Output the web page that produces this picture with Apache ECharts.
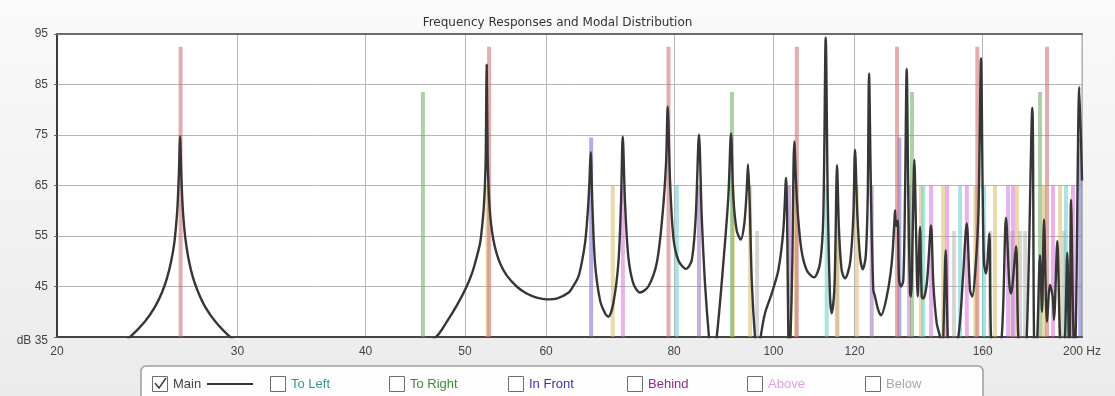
<!DOCTYPE html>
<html>
<head>
<meta charset="utf-8">
<script src="https://cdn.jsdelivr.net/npm/echarts@6/dist/echarts.min.js"></script>
<style>
  html, body { margin: 0; padding: 0; background: #f1f1f1; }
  #chart { width: 1115px; height: 396px; }
</style>
</head>
<body>
<div id="chart"></div>
<script>
// Axis tick positions (Hz) along the logarithmic frequency axis
const tickHz = [20, 30, 40, 50, 60, 80, 100, 120, 160, 200];

// Room modes (Hz), grouped by type
const axialLengthHz = [26.4, 52.8, 79.0, 105.4, 132.0, 158.1, 184.9];
const axialWidthHz = [45.5, 91.1, 136.5, 182.0];
const axialHeightHz = [66.4, 132.7, 199.2];
const tangentialTanHz = [52.6, 69.7, 91.3, 94.9, 105.2, 115.3, 120.6, 139.3, 146.4, 157.4, 164.5, 172.8, 183.6, 190.4];
const tangentialCyanHz = [80.5, 112.7, 140.0, 152.1, 160.5, 192.9];
const tangentialPinkHz = [71.3, 135.6, 142.5, 147.7, 154.4, 169.4, 171.3, 187.4, 196.0];
const tangentialPurpleHz = [84.6, 103.6, 124.7];
const obliqueHz = [96.4, 115.5, 150.0, 162.7, 171.0, 174.0, 176.0, 192.1];

// Marker level (dB) drawn for each mode group
const modeLevels = {
  axialLength: 92.5,
  axialWidth: 83.5,
  axialHeight: 74.5,
  tangential: 65,
  oblique: 56
};

// Summed response of the main listening position: [Hz, dB]
const responsePoints = [
  [20, 25], [22.03, 30], [23.57, 35], [24.38, 38.1], [24.93, 41.0], [25.33, 43.9], [25.61, 46.7], [25.84, 49.9],
  [26.02, 53.4], [26.13, 56.9], [26.22, 61.0], [26.30, 67.4], [26.37, 74.7], [26.44, 67.4], [26.52, 61.0], [26.61, 56.9],
  [26.73, 53.4], [26.91, 49.9], [27.15, 46.7], [27.46, 43.9], [27.89, 41.0], [28.53, 38.1], [29.51, 35], [32.27, 29],
  [37.77, 27], [43.22, 30], [46.86, 35], [48.00, 38], [49.09, 41.2], [50.20, 45], [50.88, 48], [51.34, 50.8],
  [51.73, 53.5], [51.98, 57], [52.16, 60.5], [52.30, 65], [52.40, 71], [52.51, 88.9], [52.62, 71], [52.72, 65],
  [52.86, 60.5], [53.04, 57.2], [53.31, 54.2], [53.70, 51.5], [54.19, 49.3], [54.92, 47.2], [56.17, 45.0], [57.44, 43.6],
  [58.75, 42.8], [60.09, 42.45], [61.45, 42.6], [63.03, 43.7], [63.75, 45.0], [64.51, 46.9], [65.05, 50], [65.49, 53.6],
  [65.74, 57], [65.98, 61.5], [66.15, 66], [66.33, 71.6],
  [66.57, 61.5], [66.98, 49.6], [67.73, 42.3], [68.50, 39.7], [69.01, 39.0], [69.79, 41.7], [70.58, 49.6], [71.00, 61.5],
  [71.28, 74.7], [71.65, 61.5], [72.18, 50.9], [72.99, 45.6], [74.10, 43.8], [75.50, 45.0], [76.93, 49.6], [77.91, 58.8],
  [78.56, 69.3], [78.86, 80.6], [79.27, 66.0], [79.86, 54.8], [80.76, 50.2], [82.17, 48.5], [83.23, 50.2], [83.98, 58.8],
  [84.60, 75.1], [85.12, 58.8], [85.75, 45.6], [86.52, 35], [87.11, 30], [88.03, 35], [89.35, 49.6], [90.36, 62.7],
  [90.91, 75.3], [91.38, 62.7], [92.08, 56.1], [92.91, 54.3], [93.67, 57.5], [94.17, 64.0], [94.45, 69.2], [94.81, 61.4],
  [95.24, 46.3], [95.94, 35], [96.59, 30], [97.18, 35], [98.12, 39.7], [99.61, 43.6], [101.10, 48.2], [102.24, 56.1],
  [102.86, 66.5], [103.40, 36.4], [103.56, 30], [103.91, 35], [104.33, 49.6], [104.80, 73.7], [105.37, 62.7], [106.39, 52.8],
  [107.76, 48.2], [109.54, 46.8], [111.03, 49.6], [111.85, 58.8], [112.46, 94.3], [112.97, 62.7], [113.55, 43.0], [113.99, 39.7],
  [114.65, 44.3], [115.01, 56.1], [115.35, 69.0], [115.87, 56.1], [116.57, 48.2], [117.44, 46.6], [118.77, 49.6], [119.65, 58.8],
  [120.11, 72.1], [120.73, 59.4], [121.47, 50.9], [122.21, 48.4], [123.03, 50.9], [123.59, 62.7], [123.95, 87.2], [124.51, 62.7],
  [125.15, 44.3], [125.63, 43.0], [126.56, 40.3], [127.33, 39.3], [128.98, 43.0], [130.43, 49.6], [131.20, 57.5], [131.40, 60.1],
  [131.70, 57.0], [132.20, 58.1], [132.59, 46.3], [133.19, 45.0], [133.88, 46.3], [134.39, 62.7], [134.90, 88.1], [135.39, 62.7],
  [135.91, 43.6], [136.21, 43.0], [136.73, 56.1], [137.23, 70.1], [137.75, 56.1], [138.28, 43.0], [138.99, 56.8], [139.53, 43.0],
  [140.03, 42.6], [141.20, 46], [142.47, 57.1], [143.21, 45.6], [144.31, 37.7], [145.38, 35], [146.04, 30], [146.46, 35],
  [147.25, 52.2], [147.92, 35], [148.68, 30], [151.48, 35], [153.09, 47], [154.37, 57.5], [155.52, 44.3], [156.32, 43.0],
  [157.52, 49.2], [158.51, 60], [159.41, 90.2], [160.02, 62.7], [160.48, 49.6], [161.21, 47.6], [162.41, 55.5], [163.03, 35],
  [164.50, 30], [166.99, 35], [168.62, 58.6], [169.87, 45.6], [170.52, 43.6], [172.45, 53.0], [173.34, 35], [174.79, 30],
  [176.64, 35], [178.88, 80.4], [179.56, 35], [180.17, 30], [180.90, 35], [182.00, 51.2], [182.82, 40], [183.64, 58.3],
  [184.88, 38], [186.13, 45.3], [187.27, 43.0], [187.81, 38.4], [189.21, 54.0], [190.36, 35], [191.43, 30], [192.51, 35],
  [193.51, 51.7], [194.12, 35], [194.51, 32], [195.12, 62.2], [196.22, 35], [196.89, 33], [198.80, 84.5], [200, 66]
];

// Legend entries
const legendNames = ['Main', 'To Left', 'To Right', 'In Front', 'Behind', 'Above', 'Below'];
const legendChecked = [true, false, false, false, false, false, false];

// ---- styling ----
const FONT = '"Liberation Sans", Arial, sans-serif';
const legendTextColors = ['#444444', '#2f9a9a', '#3c8c3c', '#3434b4', '#8c2c8c', '#e79ae7', '#a8a8a8'];
const legendBoxX = [152, 270, 389, 508, 627, 747, 865];

const modeGroups = [
  { hz: obliqueHz, level: modeLevels.oblique, color: 'rgba(165,165,165,0.45)' },
  { hz: tangentialTanHz, level: modeLevels.tangential, color: 'rgba(214,180,92,0.5)' },
  { hz: tangentialCyanHz, level: modeLevels.tangential, color: 'rgba(84,200,200,0.5)' },
  { hz: tangentialPinkHz, level: modeLevels.tangential, color: 'rgba(215,100,215,0.5)' },
  { hz: tangentialPurpleHz, level: modeLevels.tangential, color: 'rgba(150,95,180,0.5)' },
  { hz: axialHeightHz, level: modeLevels.axialHeight, color: 'rgba(110,110,210,0.55)' },
  { hz: axialWidthHz, level: modeLevels.axialWidth, color: 'rgba(100,175,90,0.55)' },
  { hz: axialLengthHz, level: modeLevels.axialLength, color: 'rgba(205,105,105,0.55)' }
];

function renderModeBar(params, api) {
  const top = api.coord([api.value(0), api.value(1)]);
  const base = api.coord([api.value(0), 35]);
  return {
    type: 'rect',
    shape: { x: top[0] - 2, y: top[1], width: 4, height: base[1] - top[1] },
    style: { fill: api.visual('color') }
  };
}

const modeSeries = modeGroups.map(g => ({
  type: 'custom',
  renderItem: renderModeBar,
  clip: true,
  z: 2,
  itemStyle: { color: g.color },
  encode: { x: 0, y: 1 },
  data: g.hz.map(f => [f, g.level]),
  silent: true
}));

// legend drawn as a panel of checkboxes
const legendGraphics = [{
  type: 'rect',
  shape: { x: 141, y: 366, width: 842, height: 40, r: 5 },
  style: { fill: '#fdfdfd', stroke: '#9c9c9c', lineWidth: 1.5 }
}];
legendNames.forEach((name, i) => {
  const bx = legendBoxX[i];
  legendGraphics.push({
    type: 'rect',
    shape: { x: bx + 0.5, y: 376.5, width: 15, height: 15 },
    style: { fill: '#ffffff', stroke: '#6e6e6e', lineWidth: 1 }
  });
  if (legendChecked[i]) {
    legendGraphics.push({
      type: 'polyline',
      shape: { points: [[bx + 3, 383], [bx + 7, 388], [bx + 14, 378]] },
      style: { stroke: '#3a3a3a', lineWidth: 1.4, fill: null }
    });
  }
  legendGraphics.push({
    type: 'text',
    x: bx + 21, y: 384,
    style: { text: name, fill: legendTextColors[i], font: '13px ' + FONT, verticalAlign: 'middle', align: 'left' }
  });
  if (i === 0) {
    legendGraphics.push({
      type: 'line',
      shape: { x1: 207, y1: 384, x2: 253, y2: 384 },
      style: { stroke: '#333333', lineWidth: 2 }
    });
  }
});

const chart = echarts.init(document.getElementById('chart'), null, { renderer: 'canvas' });
chart.setOption({
  animation: false,
  backgroundColor: {
    type: 'linear', x: 0, y: 0, x2: 0, y2: 1,
    colorStops: [{ offset: 0, color: '#fafafa' }, { offset: 1, color: '#ebebeb' }]
  },
  title: {
    text: 'Frequency Responses and Modal Distribution',
    left: 'center',
    top: 12,
    textStyle: { fontFamily: '"DejaVu Sans", Verdana, sans-serif', fontSize: 12, fontWeight: 'normal', color: '#333333' }
  },
  grid: {
    left: 57, right: 33, top: 34, bottom: 59,
    show: true, backgroundColor: '#ffffff', borderColor: '#9a9a9a', borderWidth: 1
  },
  xAxis: [{
    type: 'log', logBase: 10, min: 20, max: 200,
    axisLine: { show: true, onZero: false, lineStyle: { color: '#454545', width: 2 } },
    axisTick: { show: false, customValues: tickHz },
    axisLabel: {
      customValues: tickHz,
      formatter: v => (Math.round(v) === 200 ? '200 Hz' : String(Math.round(v))),
      color: '#444444', fontSize: 12, fontFamily: FONT, margin: 9
    },
    splitLine: { show: true, lineStyle: { color: '#b6b6b6', width: 1 } }
  }, {
    type: 'log', logBase: 10, min: 20, max: 200, position: 'top',
    axisLine: { show: true, onZero: false, lineStyle: { color: '#6b6b6b', width: 2 } },
    axisTick: { show: false }, axisLabel: { show: false }, splitLine: { show: false }
  }],
  yAxis: {
    type: 'value', min: 35, max: 95, interval: 10,
    axisLine: { show: true, lineStyle: { color: '#3c3c3c', width: 2 } },
    axisTick: { show: true, length: 3, lineStyle: { color: '#666666' } },
    axisLabel: {
      formatter: v => (v === 35 ? '{low|dB 35}' : String(v)),
      color: '#444444', fontSize: 12, fontFamily: FONT, margin: 9,
      rich: { low: { padding: [7, 0, 0, 0], color: '#444444', fontSize: 12, fontFamily: FONT } }
    },
    splitLine: { lineStyle: { color: '#b6b6b6', width: 1 } }
  },
  graphic: legendGraphics,
  series: modeSeries.concat([{
    name: 'Main',
    type: 'line',
    data: responsePoints,
    showSymbol: false,
    smooth: 0.3,
    clip: true,
    z: 5,
    lineStyle: { color: '#363636', width: 2.4 },
    silent: true
  }])
});
</script>
</body>
</html>
